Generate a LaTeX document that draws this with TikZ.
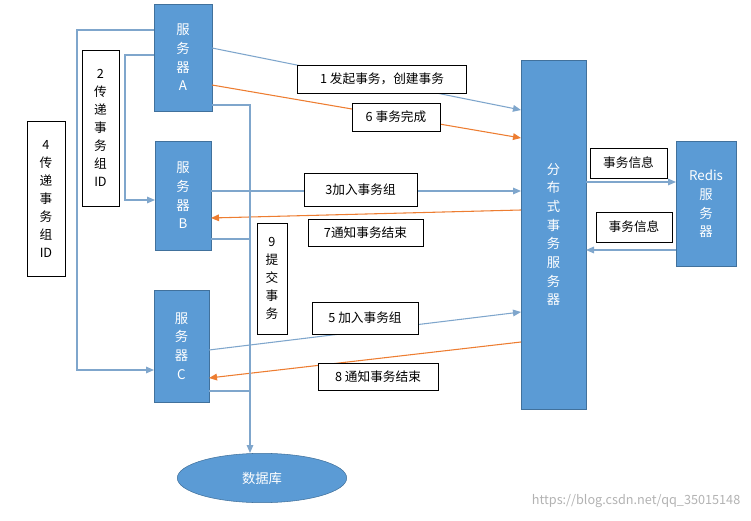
\documentclass[tikz,border=0pt]{standalone}
\usepackage{fontspec}
\setmainfont{Noto Sans CJK SC}
\usetikzlibrary{arrows.meta,shapes.geometric}
\definecolor{bfill}{HTML}{5B9BD5}
\definecolor{bdraw}{HTML}{41719C}
\definecolor{lblue}{HTML}{7FA6CC}
\definecolor{lorange}{HTML}{ED7D31}
\begin{document}
\begin{tikzpicture}[x=0.75pt,y=-0.75pt,
  srv/.style={draw=bdraw,fill=bfill,text=white,inner sep=0pt,align=center,font=\fontsize{10}{14}\selectfont},
  lbl/.style={draw=black,fill=white,inner sep=0pt,align=center,font=\fontsize{9.5}{13.5}\selectfont},
  bl/.style={draw=lblue,line width=0.8pt},
  ba/.style={bl,-{Triangle[length=6pt,width=5pt]}},
  oa/.style={draw=lorange,line width=0.8pt,-{Triangle[length=6pt,width=5pt]}}]
\useasboundingbox (0,0) rectangle (751,521);
% servers
\node[srv,minimum width=43.5pt,minimum height=80pt] (A) at (183,57.5) {服\\务\\器\\A};
\node[srv,minimum width=42pt,minimum height=82pt] (B) at (183,195.5) {服\\务\\器\\B};
\node[srv,minimum width=41pt,minimum height=84pt] (C) at (181.5,346) {服\\务\\器\\C};
\node[srv,minimum width=49pt,minimum height=262pt] (D) at (553.5,234.5) {分\\布\\式\\事\\务\\服\\务\\器};
\node[srv,minimum width=45pt,minimum height=94pt] (R) at (706,204) {Redis\\服\\务\\器};
\node[srv,ellipse,minimum width=127pt,minimum height=37pt] (DB) at (262,478) {数据库};
% connector coordinates
\coordinate (a1) at (212,48); \coordinate (d1) at (521,110);
\coordinate (a6) at (212,85); \coordinate (d6) at (521,138);
\coordinate (b3) at (211,191); \coordinate (d3) at (521,191);
\coordinate (d7) at (521,210); \coordinate (b7) at (211,218);
\coordinate (c5) at (209,350); \coordinate (d5) at (521,312);
\coordinate (d8) at (521,342); \coordinate (c8) at (209,378);
\coordinate (a2) at (154,55); \coordinate (b2) at (155,200);
\coordinate (a4) at (154,30); \coordinate (c4) at (154,370);
\coordinate (a9) at (212,105); \coordinate (b9) at (211,239); \coordinate (c9) at (209,391);
\coordinate (dbt) at (250,453);
\coordinate (dr1) at (586,182); \coordinate (r1) at (676,182);
\coordinate (r2) at (676,250); \coordinate (dr2) at (586,250);
% lines
\draw[ba] (a1) -- (d1);
\draw[oa] (a6) -- (d6);
\draw[ba] (b3) -- (d3);
\draw[oa] (d7) -- (b7);
\draw[ba] (c5) -- (d5);
\draw[oa] (d8) -- (c8);
\draw[ba] (a2) -- (125,55) -- (125,200) -- (b2);
\draw[ba] (a4) -- (77,30) -- (77,370) -- (c4);
\draw[ba] (a9) -- (250,105) -- (dbt);
\draw[bl] (b9) -- (250,239);
\draw[bl] (c9) -- (250,391);
\draw[ba] (dr1) -- (r1);
\draw[ba] (r2) -- (dr2);
% labels
\node[lbl,minimum width=28pt,minimum height=117pt] (L2) at (100.5,128) {2\\传\\递\\事\\务\\组\\ID};
\node[lbl,minimum width=28.5pt,minimum height=116pt] (L4) at (46,198.5) {4\\传\\递\\事\\务\\组\\ID};
\node[lbl,minimum width=22.5pt,minimum height=83pt] (L9) at (272,278.5) {9\\提\\交\\事\\务};
\node[lbl,minimum width=127pt,minimum height=21pt] (L1) at (382,79) {1 发起事务，创建事务};
\node[lbl,minimum width=66pt,minimum height=21pt] (L6) at (396,117) {6 事务完成};
\node[lbl,minimum width=85pt,minimum height=25pt] (L3) at (360.5,190) {3加入事务组};
\node[lbl,minimum width=86pt,minimum height=20pt] (L7) at (365.5,232.5) {7通知事务结束};
\node[lbl,minimum width=79.5pt,minimum height=24pt] (L5) at (365,318) {5 加入事务组};
\node[lbl,minimum width=90pt,minimum height=20pt] (L8) at (378,376.5) {8 通知事务结束};
\node[lbl,minimum width=58pt,minimum height=22.5pt] (I1) at (628.5,163) {事务信息};
\node[lbl,minimum width=57pt,minimum height=22.5pt] (I2) at (634,227) {事务信息};
\node[text=gray!60,font=\fontsize{9.5}{11}\selectfont,anchor=east] (W) at (745,501) {https://blog.csdn.net/qq\_35015148};
\end{tikzpicture}
\end{document}
